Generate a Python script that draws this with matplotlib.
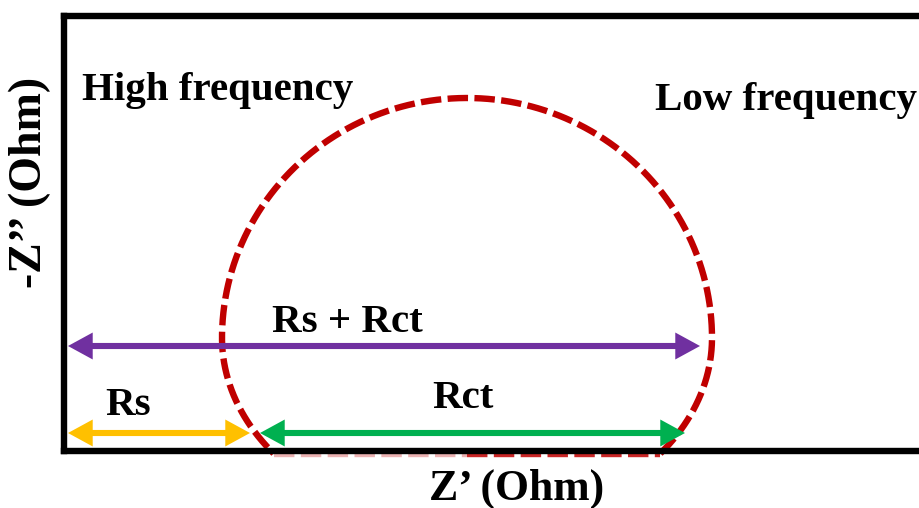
import numpy as np
import matplotlib
matplotlib.use("Agg")
import matplotlib.pyplot as plt
from matplotlib.patches import FancyArrowPatch

# Nyquist sketch: geometry in plot units (Z' and -Z'')
x_max, y_max = 85.6, 43.5

# semicircle-like arc
arc_center = (40.3, 11.3)
arc_rx = 24.5
arc_ry_top = 24.0
arc_ry_bottom = 18.8
arc_floor = -0.25

# arrow spans
arrow_names = ["Rs + Rct", "Rs", "Rct"]
arrow_x0 = [0.4, 0.4, 19.6]
arrow_x1 = [63.6, 18.6, 62.1]
arrow_y = [10.5, 1.8, 1.8]
arrow_colors = ["#7030A0", "#FFC000", "#00B050"]

# text annotations
label_texts = ["High frequency", "Low frequency", "Rs + Rct", "Rs", "Rct"]
label_x = [1.8, 59.1, 20.8, 4.1, 36.8]
label_y = [35.1, 34.1, 11.9, 3.6, 4.3]

plt.rcParams["font.family"] = ["Liberation Serif", "DejaVu Serif"]

fig = plt.figure(figsize=(9.2, 5.08), dpi=100)
ax = fig.add_axes([64 / 920, 57 / 508, 1 - 64 / 920, 435 / 508])
ax.set_xlim(0, x_max)
ax.set_ylim(0, y_max)
ax.set_xticks([])
ax.set_yticks([])
ax.spines["right"].set_visible(False)
for s in ["left", "top", "bottom"]:
    ax.spines[s].set_linewidth(4.6)
    ax.spines[s].set_zorder(5)

# arc outline
cx, cy = arc_center
phi_r = np.arcsin((arc_floor - cy) / arc_ry_bottom)
phi = np.linspace(phi_r, np.pi - phi_r, 600)
ry = np.where(np.sin(phi) > 0, arc_ry_top, arc_ry_bottom)
xs = cx + arc_rx * np.cos(phi)
ys = cy + ry * np.sin(phi)
red = "#C00000"
dash = (0, (3.2, 1.0))
lw_red = 4.6
ax.plot(xs, ys, color=red, lw=lw_red, linestyle=dash,
        clip_on=False, zorder=3)
# bottom chord, partly hidden under the axis line
mid = 0.5 * (xs[0] + xs[-1])
ax.plot([xs[-1], mid], [arc_floor, arc_floor], color=red, alpha=0.3,
        lw=lw_red, linestyle=dash, clip_on=False, zorder=3)
ax.plot([mid, xs[0]], [arc_floor, arc_floor], color=red, alpha=0.85,
        lw=lw_red, linestyle=dash, clip_on=False, zorder=3)

# double-headed arrows
for x0, x1, y, c in zip(arrow_x0, arrow_x1, arrow_y, arrow_colors):
    arr = FancyArrowPatch((x0, y), (x1, y),
                          arrowstyle="<|-|>,head_length=11,head_width=6",
                          mutation_scale=1, shrinkA=0, shrinkB=0,
                          color=c, lw=4.4, zorder=4, clip_on=False,
                          joinstyle="miter", capstyle="butt")
    ax.add_patch(arr)

for t, x, y in zip(label_texts, label_x, label_y):
    ax.text(x, y, t, fontsize=29.5, fontweight="bold", ha="left",
            va="baseline", color="black", zorder=6)

fig.text(517 / 920, 1 - 500 / 508, "Z\u2019 (Ohm)", fontsize=31.5,
         fontweight="bold", ha="center", va="baseline")
fig.text(30 / 920, 1 - 182 / 508, "-Z\u2019\u2019 (Ohm)", fontsize=33,
         fontweight="bold", ha="center", va="center", rotation=90)

fig.savefig("out.png", dpi=100)
